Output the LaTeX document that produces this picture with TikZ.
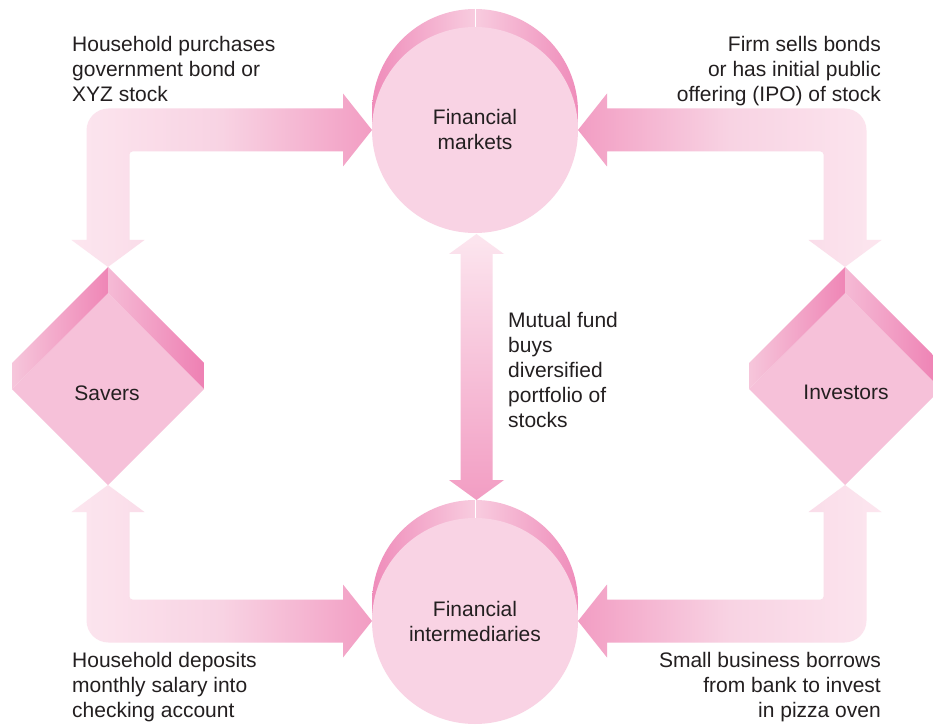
\documentclass[tikz,border=0pt]{standalone}
\usepackage{fontspec}
\setmainfont{Liberation Sans}
\usetikzlibrary{shapes.geometric,calc}
\definecolor{alight}{HTML}{FCE6EF}
\definecolor{amid}{HTML}{F8D3E3}
\definecolor{adark}{HTML}{F29DC3}
\definecolor{cface}{HTML}{F9D3E4}
\definecolor{cdark}{HTML}{EF8CBA}
\definecolor{clight}{HTML}{F8CCDF}
\definecolor{dface}{HTML}{F6C1D9}
\definecolor{blight}{HTML}{F6C6DB}
\definecolor{bdark}{HTML}{EF86B6}
\definecolor{brlight}{HTML}{F5BAD5}
\definecolor{brdark}{HTML}{EE80B3}
\definecolor{txt}{HTML}{231F20}
\begin{document}
\begin{tikzpicture}[x=1pt,y=1pt,
  lbl/.style={font=\fontsize{21}{25}\selectfont, text=txt, inner sep=0pt},
  circ/.style={circle, minimum size=206pt, inner sep=0pt, outer sep=0pt, fill=cface},
  diam/.style={diamond, aspect=1, minimum width=192pt, minimum height=192pt, inner sep=0pt, outer sep=0pt, fill=dface},
  harrowR/.style={left color=alight, right color=adark, middle color=amid},
  harrowL/.style={left color=adark, right color=alight, middle color=amid}]
\clip (0,0) rectangle (933,724);
\fill[white] (0,0) rectangle (933,724);

% circle backs
\coordinate (fmc) at (475,594);
\coordinate (fic) at (475,103);
\foreach \c in {fmc,fic}{
  \shade[left color=cdark, right color=clight] let \p1=(\c) in
    (\x1,\y1+121pt) arc[start angle=90,end angle=270,radius=103pt] -- cycle;
  \shade[left color=clight, right color=cdark] let \p1=(\c) in
    (\x1,\y1+121pt) arc[start angle=90,end angle=-90,radius=103pt] -- cycle;
  \draw[white, line width=0.8pt] let \p1=(\c) in (\x1,\y1+122pt) -- (\x1,\y1+90pt);
}
\node[circ] (fm) at (fmc) {};
\node[circ] (fi) at (fic) {};

% diamonds
\node[diam] (sv) at (108,335) {};
\node[diam] (iv) at (845,335) {};
\foreach \d in {sv,iv}{
  \shade[left color=blight, right color=bdark]
    ([yshift=26pt]\d.west) -- ([yshift=26pt]\d.north) -- (\d.north) -- (\d.west) -- cycle;
  \shade[left color=brlight, right color=brdark]
    ([yshift=26pt]\d.north) -- ([yshift=26pt]\d.east) -- (\d.east) -- (\d.north) -- cycle;
}

% L-shaped arrows
\shade[harrowR] let \p1=(fm.west), \p2=([yshift=26pt]sv.north) in
  (\p1) -- (\x1-29pt,\y1+36.5pt) -- (\x1-29pt,\y1+21.5pt) -- (\x2+0.5pt,\y1+21.5pt)
  arc[start angle=90,end angle=180,radius=22pt] -- (\x2-21.5pt,\y2+27pt) -- (\x2-36.5pt,\y2+27pt)
  -- (\p2) -- (\x2+36.5pt,\y2+27pt) -- (\x2+21.5pt,\y2+27pt) -- (\x2+21.5pt,\y1-24.5pt)
  arc[start angle=180,end angle=90,radius=3pt] -- (\x1-29pt,\y1-21.5pt) -- (\x1-29pt,\y1-36.5pt) -- cycle;

\shade[harrowL] let \p1=(fm.east), \p2=([yshift=26pt]iv.north) in
  (\p1) -- (\x1+29pt,\y1+36.5pt) -- (\x1+29pt,\y1+21.5pt) -- (\x2-0.5pt,\y1+21.5pt)
  arc[start angle=90,end angle=0,radius=22pt] -- (\x2+21.5pt,\y2+27pt) -- (\x2+36.5pt,\y2+27pt)
  -- (\p2) -- (\x2-36.5pt,\y2+27pt) -- (\x2-21.5pt,\y2+27pt) -- (\x2-21.5pt,\y1-24.5pt)
  arc[start angle=0,end angle=90,radius=3pt] -- (\x1+29pt,\y1-21.5pt) -- (\x1+29pt,\y1-36.5pt) -- cycle;

\shade[harrowR] let \p1=(fi.west), \p2=(sv.south) in
  (\p1) -- (\x1-29pt,\y1-36.5pt) -- (\x1-29pt,\y1-21.5pt) -- (\x2+0.5pt,\y1-21.5pt)
  arc[start angle=270,end angle=180,radius=22pt] -- (\x2-21.5pt,\y2-27pt) -- (\x2-36.5pt,\y2-27pt)
  -- (\p2) -- (\x2+36.5pt,\y2-27pt) -- (\x2+21.5pt,\y2-27pt) -- (\x2+21.5pt,\y1+24.5pt)
  arc[start angle=180,end angle=270,radius=3pt] -- (\x1-29pt,\y1+21.5pt) -- (\x1-29pt,\y1+36.5pt) -- cycle;

\shade[harrowL] let \p1=(fi.east), \p2=(iv.south) in
  (\p1) -- (\x1+29pt,\y1-36.5pt) -- (\x1+29pt,\y1-21.5pt) -- (\x2-0.5pt,\y1-21.5pt)
  arc[start angle=270,end angle=360,radius=22pt] -- (\x2+21.5pt,\y2-27pt) -- (\x2+36.5pt,\y2-27pt)
  -- (\p2) -- (\x2-36.5pt,\y2-27pt) -- (\x2-21.5pt,\y2-27pt) -- (\x2-21.5pt,\y1+24.5pt)
  arc[start angle=0,end angle=-90,radius=3pt] -- (\x1+29pt,\y1+21.5pt) -- (\x1+29pt,\y1+36.5pt) -- cycle;

% middle double arrow
\shade[top color=alight, bottom color=adark] let \p1=([xshift=1.5pt,yshift=-1pt]fm.south), \p2=([xshift=1.5pt,yshift=18pt]fi.north) in
  (\p1) -- (\x1+27.5pt,\y1-20pt) -- (\x1+16pt,\y1-20pt) -- (\x2+16pt,\y2+20pt) -- (\x2+27.5pt,\y2+20pt)
  -- (\p2) -- (\x2-27.5pt,\y2+20pt) -- (\x2-16pt,\y2+20pt) -- (\x1-16pt,\y1-20pt) -- (\x1-27.5pt,\y1-20pt) -- cycle;

% labels (base anchor = baseline of last line)
\node[lbl, anchor=base, align=center] (fmt) at (475,574) {Financial\\markets};
\node[lbl, anchor=base, align=center] (fit) at (475,83) {Financial\\intermediaries};
\node[lbl, anchor=base] (svt) at (107,324) {Savers};
\node[lbl, anchor=base] (ivt) at (846,325) {Investors};
\node[lbl, anchor=base west, align=left] (t1) at (72,622) {Household purchases\\government bond or\\XYZ stock};
\node[lbl, anchor=base east, align=right] (t2) at (881,622) {Firm sells bonds\\or has initial public\\offering (IPO) of stock};
\node[lbl, anchor=base west, align=left] (t3) at (72,7) {Household deposits\\monthly salary into\\checking account};
\node[lbl, anchor=base east, align=right] (t4) at (881,7) {Small business borrows\\from bank to invest\\in pizza oven};
\node[lbl, anchor=base west, align=left] (t5) at (508,297) {Mutual fund\\buys\\diversified\\portfolio of\\stocks};
\end{tikzpicture}
\end{document}
